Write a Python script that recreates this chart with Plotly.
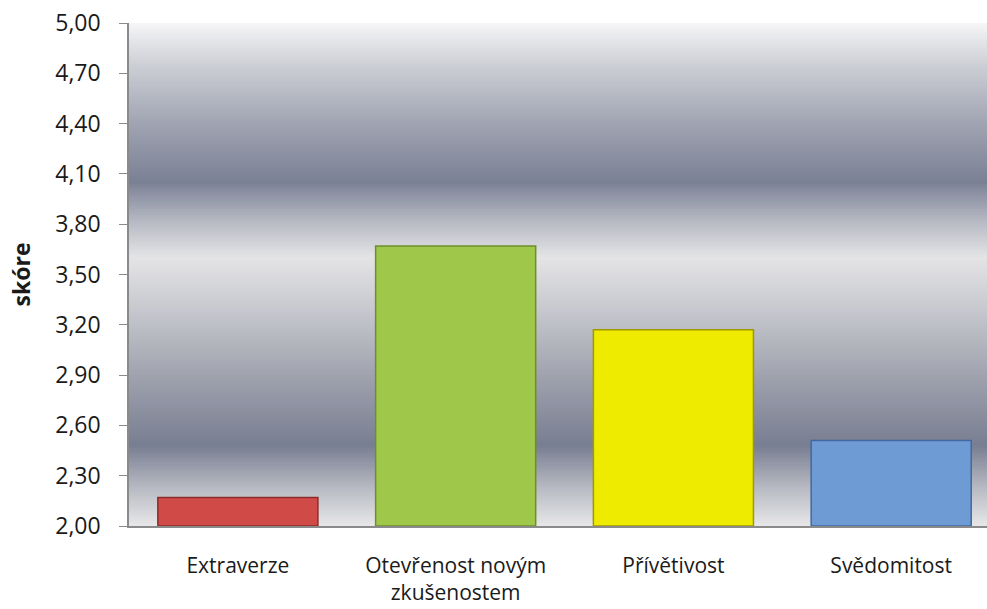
import plotly.graph_objects as go

categories = ["Extraverze", "Otevřenost novým<br>zkušenostem", "Přívětivost", "Svědomitost"]
values = [2.17, 3.67, 3.17, 2.51]
bar_colors = ["#d04a47", "#9fc84a", "#eeea00", "#6f9bd5"]
bar_lines = ["#8c2c2a", "#6e8e2e", "#a09a00", "#41699f"]
y_ticks = [2.00, 2.30, 2.60, 2.90, 3.20, 3.50, 3.80, 4.10, 4.40, 4.70, 5.00]
y_tick_labels = [f"{v:.2f}".replace(".", ",") for v in y_ticks]

# background gradient stops (axis value, rgb)
bg_stops = [
    (5.00, (246, 246, 247)),
    (4.75, (205, 207, 213)),
    (4.40, (160, 164, 178)),
    (4.05, (122, 128, 149)),
    (3.85, (175, 178, 189)),
    (3.60, (228, 228, 230)),
    (3.30, (200, 201, 207)),
    (2.90, (160, 163, 174)),
    (2.48, (120, 126, 146)),
    (2.25, (178, 181, 190)),
    (2.00, (232, 232, 234)),
]


def interp(v):
    s = sorted(bg_stops)
    for (v0, c0), (v1, c1) in zip(s, s[1:]):
        if v0 <= v <= v1:
            t = (v - v0) / (v1 - v0)
            return tuple(round(a + (b - a) * t) for a, b in zip(c0, c1))
    return s[-1][1]


fig = go.Figure()
fig.add_trace(go.Bar(
    x=categories, y=[v - 2.0 for v in values], base=2.0,
    width=0.735,
    marker=dict(color=bar_colors, line=dict(color=bar_lines, width=1.5)),
    hoverinfo="skip",
))

shapes = []
n = 200
lo, hi = 2.0, 5.0
step = (hi - lo) / n
for i in range(n):
    y0 = lo + i * step
    c = interp(y0 + step / 2)
    # each band extends to the top; later bands paint over -> no seams
    shapes.append(dict(type="rect", xref="paper", yref="y", x0=0, x1=1, y0=y0, y1=hi,
                       fillcolor=f"rgb{c}", line=dict(width=0), layer="below"))

fig.update_layout(
    width=987, height=609,
    margin=dict(l=129, r=0, t=23, b=83),
    paper_bgcolor="white", plot_bgcolor="white",
    shapes=shapes,
    showlegend=False,
    font=dict(family="Open Sans", color="#1a1a1a", size=23),
    xaxis=dict(range=[-0.5, 3.44], showline=True, linecolor="#8a8a8a", linewidth=1.5,
               ticks="", showgrid=False, tickfont=dict(size=21), fixedrange=True,
               ticklabelstandoff=20, automargin=False),
    yaxis=dict(range=[2.0, 5.0], tickvals=y_ticks, ticktext=y_tick_labels,
               showline=True, linecolor="#8a8a8a", linewidth=1.5, ticks="outside",
               ticklen=8, tickcolor="#8a8a8a", showgrid=False, zeroline=False,
               tickfont=dict(size=23), ticklabelstandoff=14, automargin=False,
               title=dict(text="<b>skóre</b>", font=dict(size=23), standoff=18)),
)

fig.write_html("out.html")
